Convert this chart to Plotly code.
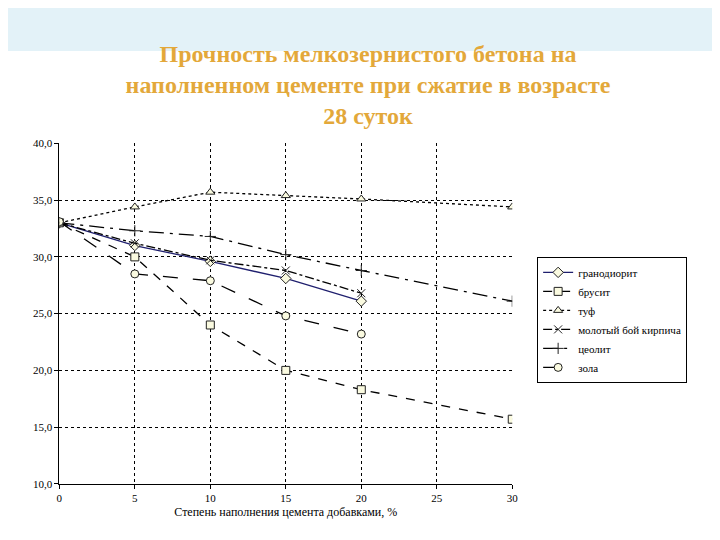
import plotly.graph_objects as go

# ----------------------------
# Data
# ----------------------------
x_full = [0, 5, 10, 15, 20, 30]
x_short = [0, 5, 10, 15, 20]

granodiorite = [33.0, 31.0, 29.6, 28.1, 26.1]
brusite = [33.0, 30.0, 24.0, 20.0, 18.3, 15.7]
tuff = [33.0, 34.4, 35.7, 35.4, 35.1, 34.4]
brick = [33.0, 31.2, 29.7, 28.8, 26.8]
zeolite = [33.0, 32.3, 31.8, 30.2, 28.8, 26.1]
ash = [33.1, 28.5, 27.9, 24.8, 23.2]

series = [
    ("гранодиорит", x_short, granodiorite, "#1f1f6e", "solid", "diamond"),
    ("брусит", x_full, brusite, "black", "dash", "square"),
    ("туф", x_full, tuff, "black", "dot", "triangle-up"),
    ("молотый бой кирпича", x_short, brick, "black", "dashdot", "x-thin"),
    ("цеолит", x_full, zeolite, "black", "longdashdot", "cross-thin"),
    ("зола", x_short, ash, "black", "longdash", "circle"),
]

fig = go.Figure()
for name, xs, ys, color, dash, symbol in series:
    fig.add_trace(go.Scatter(
        x=xs, y=ys, name=name, mode="lines+markers",
        line=dict(color=color, width=1.3, dash=dash),
        marker=dict(symbol=symbol, size=8, color="#fafae0",
                    line=dict(color="#222", width=1)),
    ))

# light blue header band like the slide background
fig.add_shape(type="rect", xref="paper", yref="paper", x0=-0.1, x1=1.5,
              y0=0.93, y1=1.2, fillcolor="#e3f2f8", line_width=0, layer="below")

grid = dict(showgrid=True, gridcolor="black", griddash="dot", gridwidth=1,
            showline=True, linecolor="black", ticks="outside", ticklen=4,
            tickcolor="black", tickfont=dict(family="Liberation Serif", size=11, color="black"),
            zeroline=False)

fig.update_layout(
    width=720, height=540, paper_bgcolor="white", plot_bgcolor="white",
    margin=dict(l=0, r=0, t=0, b=0),
    title=dict(text="<b>Прочность мелкозернистого бетона на<br>наполненном цементе при сжатие в возрасте<br>28 суток</b>",
               x=0.5, y=0.9, xanchor="center", yanchor="top",
               font=dict(family="Liberation Serif", size=24, color="#e3a83a")),
    xaxis=dict(domain=[0.068, 0.705], range=[0, 30], dtick=5, **grid,
               title=dict(text="Степень наполнения цемента добавками, %",
                          font=dict(family="Liberation Serif", size=12, color="black"), standoff=4)),
    yaxis=dict(domain=[0.11, 0.755], range=[10, 40], dtick=5, tickformat=".1f", **grid),
    separators=",",
    legend=dict(x=0.74, y=0.54, xanchor="left", yanchor="top",
                bordercolor="black", borderwidth=1, bgcolor="white",
                font=dict(family="Liberation Serif", size=11, color="black"),
                tracegroupgap=2),
)

fig.write_html("out.html")
